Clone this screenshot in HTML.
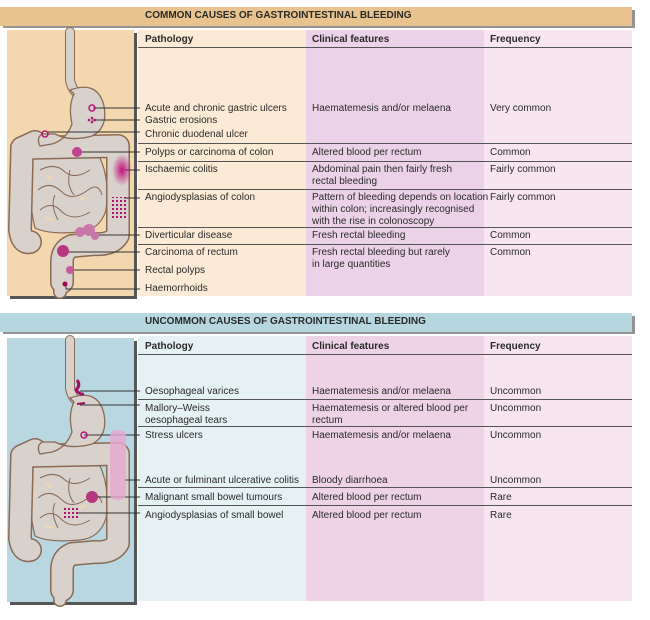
<!DOCTYPE html>
<html><head><meta charset="utf-8"><style>
body{margin:0;width:650px;height:620px;background:#fff;position:relative;overflow:hidden;font-family:"Liberation Sans",sans-serif;font-size:10px;color:#2a2a2a}
.a{position:absolute}
.t{position:absolute;white-space:nowrap;line-height:12px}
.h{font-weight:bold}
.ln{position:absolute;height:1px;background:#555}
</style></head><body>
<div class="a" style="left:3px;top:10px;width:632px;height:18px;background:#3a3a3a;opacity:.55"></div>
<div class="a" style="left:0;top:7px;width:632px;height:19px;background:#e8c38e"></div>
<div class="t h" style="left:145px;top:10px;font-size:10px">COMMON CAUSES OF GASTROINTESTINAL BLEEDING</div>
<div class="a" style="left:138px;top:30px;width:168px;height:266px;background:#fbebd6"></div>
<div class="a" style="left:306px;top:30px;width:178px;height:266px;background:#ebd2e8"></div>
<div class="a" style="left:484px;top:30px;width:148px;height:266px;background:#f7e5f0"></div>
<div class="a" style="left:10px;top:33px;width:127px;height:266px;background:#555"></div>
<div class="a" style="left:7px;top:30px;width:127px;height:266px;background:#f3d7ae"></div>

<div class="ln" style="left:138px;top:47px;width:494px"></div>
<div class="ln" style="left:138px;top:143px;width:494px"></div>
<div class="ln" style="left:138px;top:161px;width:494px"></div>
<div class="ln" style="left:138px;top:189px;width:494px"></div>
<div class="ln" style="left:138px;top:227px;width:494px"></div>
<div class="ln" style="left:138px;top:244px;width:494px"></div>

<div class="t h" style="left:145px;top:34px">Pathology</div>
<div class="t h" style="left:312px;top:34px">Clinical features</div>
<div class="t h" style="left:490px;top:34px">Frequency</div>

<div class="t" style="left:145px;top:103px">Acute and chronic gastric ulcers</div>
<div class="t" style="left:145px;top:115px">Gastric erosions</div>
<div class="t" style="left:145px;top:129px">Chronic duodenal ulcer</div>
<div class="t" style="left:145px;top:147px">Polyps or carcinoma of colon</div>
<div class="t" style="left:145px;top:164px">Ischaemic colitis</div>
<div class="t" style="left:145px;top:192px">Angiodysplasias of colon</div>
<div class="t" style="left:145px;top:230px">Diverticular disease</div>
<div class="t" style="left:145px;top:247px">Carcinoma of rectum</div>
<div class="t" style="left:145px;top:265px">Rectal polyps</div>
<div class="t" style="left:145px;top:283px">Haemorrhoids</div>

<div class="t" style="left:312px;top:103px">Haematemesis and/or melaena</div>
<div class="t" style="left:312px;top:147px">Altered blood per rectum</div>
<div class="t" style="left:312px;top:164px">Abdominal pain then fairly fresh<br>rectal bleeding</div>
<div class="t" style="left:312px;top:192px">Pattern of bleeding depends on location<br>within colon; increasingly recognised<br>with the rise in colonoscopy</div>
<div class="t" style="left:312px;top:230px">Fresh rectal bleeding</div>
<div class="t" style="left:312px;top:247px">Fresh rectal bleeding but rarely<br>in large quantities</div>

<div class="t" style="left:490px;top:103px">Very common</div>
<div class="t" style="left:490px;top:147px">Common</div>
<div class="t" style="left:490px;top:164px">Fairly common</div>
<div class="t" style="left:490px;top:192px">Fairly common</div>
<div class="t" style="left:490px;top:230px">Common</div>
<div class="t" style="left:490px;top:247px">Common</div>

<div class="a" style="left:3px;top:316px;width:632px;height:18px;background:#3a3a3a;opacity:.55"></div>
<div class="a" style="left:0;top:313px;width:632px;height:19px;background:#b6d6e0"></div>
<div class="t h" style="left:145px;top:316px">UNCOMMON CAUSES OF GASTROINTESTINAL BLEEDING</div>
<div class="a" style="left:138px;top:336px;width:168px;height:265px;background:#e6f1f3"></div>
<div class="a" style="left:306px;top:336px;width:178px;height:265px;background:#eed3e7"></div>
<div class="a" style="left:484px;top:336px;width:148px;height:265px;background:#f6e5ef"></div>
<div class="a" style="left:10px;top:341px;width:127px;height:264px;background:#555"></div>
<div class="a" style="left:7px;top:338px;width:127px;height:264px;background:#b8d7e1"></div>

<div class="ln" style="left:138px;top:354px;width:494px"></div>
<div class="ln" style="left:138px;top:399px;width:494px"></div>
<div class="ln" style="left:138px;top:426px;width:494px"></div>
<div class="ln" style="left:138px;top:487px;width:494px"></div>
<div class="ln" style="left:138px;top:505px;width:494px"></div>

<div class="t h" style="left:145px;top:341px">Pathology</div>
<div class="t h" style="left:312px;top:341px">Clinical features</div>
<div class="t h" style="left:490px;top:341px">Frequency</div>

<div class="t" style="left:145px;top:386px">Oesophageal varices</div>
<div class="t" style="left:145px;top:403px">Mallory–Weiss<br>oesophageal tears</div>
<div class="t" style="left:145px;top:430px">Stress ulcers</div>
<div class="t" style="left:145px;top:475px">Acute or fulminant ulcerative colitis</div>
<div class="t" style="left:145px;top:492px">Malignant small bowel tumours</div>
<div class="t" style="left:145px;top:510px">Angiodysplasias of small bowel</div>

<div class="t" style="left:312px;top:386px">Haematemesis and/or melaena</div>
<div class="t" style="left:312px;top:403px">Haematemesis or altered blood per<br>rectum</div>
<div class="t" style="left:312px;top:430px">Haematemesis and/or melaena</div>
<div class="t" style="left:312px;top:475px">Bloody diarrhoea</div>
<div class="t" style="left:312px;top:492px">Altered blood per rectum</div>
<div class="t" style="left:312px;top:510px">Altered blood per rectum</div>

<div class="t" style="left:490px;top:386px">Uncommon</div>
<div class="t" style="left:490px;top:403px">Uncommon</div>
<div class="t" style="left:490px;top:430px">Uncommon</div>
<div class="t" style="left:490px;top:475px">Uncommon</div>
<div class="t" style="left:490px;top:492px">Rare</div>
<div class="t" style="left:490px;top:510px">Rare</div>

<svg class="a" style="left:0;top:0" width="650" height="620">
<defs>
<radialGradient id="g1"><stop offset="0" stop-color="#c0127a"/><stop offset="1" stop-color="#c0127a" stop-opacity="0"/></radialGradient>
<pattern id="dots" width="4" height="4" patternUnits="userSpaceOnUse"><rect width="2" height="2" fill="#b0106e"/></pattern>
<g id="gut">
 <path d="M30 130 Q60 122 100 128 Q110 150 106 180 Q100 200 80 202 Q50 205 35 198 Q28 170 30 130 Z" fill="#d8d1cc" stroke="#8a6a55" stroke-width="1.2"/>
 <g fill="none" stroke="#8a6a55" stroke-linecap="round" stroke-linejoin="round">
  <path d="M70 2 L70 50 Q72 62 82 66" stroke-width="10"/>
  <path d="M35 112 L22 118 L20 200 Q22 214 30 212" stroke-width="24"/>
  <path d="M22 118 L118 116 L118 205 Q112 215 95 214 L72 216 Q62 220 62 232 L62 252" stroke-width="24"/>
  <path d="M62 232 L60 262" stroke-width="14"/>
 </g>
 <g fill="none" stroke="#d8d1cc" stroke-linecap="round" stroke-linejoin="round">
  <path d="M70 2 L70 50 Q72 62 82 66" stroke-width="8"/>
  <path d="M35 112 L22 118 L20 200 Q22 214 30 212" stroke-width="21"/>
  <path d="M22 118 L118 116 L118 205 Q112 215 95 214 L72 216 Q62 220 62 232 L62 252" stroke-width="21"/>
  <path d="M62 232 L60 262" stroke-width="11"/>
 </g>
 <path d="M40 140 Q55 132 65 142 Q75 150 90 140 M38 160 Q50 150 62 162 Q72 172 88 160 Q98 152 102 165 M40 180 Q52 170 62 182 Q74 192 90 182 M70 140 Q66 155 74 165 M55 165 Q50 175 58 190" fill="none" stroke="#8a6a55" stroke-width="1"/>
 <path d="M46 146 l6 3 M80 170 l6 -3 M45 188 l8 2" stroke="#f3d7ae" stroke-width="2"/>
 <path d="M70 60 Q98 50 104 76 Q108 98 92 106 Q70 112 55 104 L42 104 Q36 108 40 116 L52 114 Q66 110 72 94 Q68 76 74 64 Z" fill="#d8d1cc" stroke="#8a6a55" stroke-width="1.3"/>
</g>
</defs>
<use href="#gut" x="0" y="30"/>
<use href="#gut" x="0" y="338"/>
<g stroke="#333" stroke-width="0.9" fill="none">
 <path d="M93 108 H140 M92 120 H140 M48 132 H140 M80 152 H140 M125 170 H140 M124 198 H140 M95 235 H140 M68 252 H140 M70 270 H140 M66 284 V289 H140"/>
 <path d="M80 391 H140 M80 405 H140 M84 435 H140 M124 480 H140 M96 497 H140 M78 513 H140"/>
</g>
<g fill="#b5147a">
 <circle cx="92" cy="108" r="3" fill="none" stroke="#b5147a" stroke-width="1.5"/>
 <circle cx="92" cy="118" r="1.3"/><circle cx="95" cy="120" r="1.3"/><circle cx="89" cy="120" r="1.3"/><circle cx="92" cy="122" r="1.3"/>
 <circle cx="45" cy="134" r="3" fill="none" stroke="#b5147a" stroke-width="1.5"/>
 <circle cx="77" cy="152" r="5" fill="#c2438f"/>
 <ellipse cx="122" cy="170" rx="10" ry="16" fill="url(#g1)"/>
 <rect x="110" y="197" width="16" height="22" fill="url(#dots)"/>
 <circle cx="80" cy="232" r="5" fill="#c977a9"/><circle cx="89" cy="230" r="6" fill="#c977a9"/><circle cx="95" cy="236" r="4" fill="#c977a9"/>
 <circle cx="63" cy="251" r="6" fill="#b5377f"/>
 <circle cx="70" cy="270" r="4" fill="#c55b9b"/>
 <circle cx="65" cy="284" r="2.5" fill="#9a0a4c"/>
 <path d="M77 380 Q81 385 76 390 Q80 395 84 394" fill="none" stroke="#a01065" stroke-width="3"/>
 <path d="M77 404 L85 403" stroke="#a01065" stroke-width="2"/>
 <circle cx="84" cy="435" r="3" fill="none" stroke="#b5147a" stroke-width="1.5"/>
 <rect x="110" y="430" width="16" height="70" rx="6" fill="#e6a8cf" opacity=".8"/>
 <circle cx="92" cy="497" r="6" fill="#b5377f"/>
 <rect x="64" y="506" width="16" height="14" fill="url(#dots)"/>
</g>
</svg>
</body></html>
